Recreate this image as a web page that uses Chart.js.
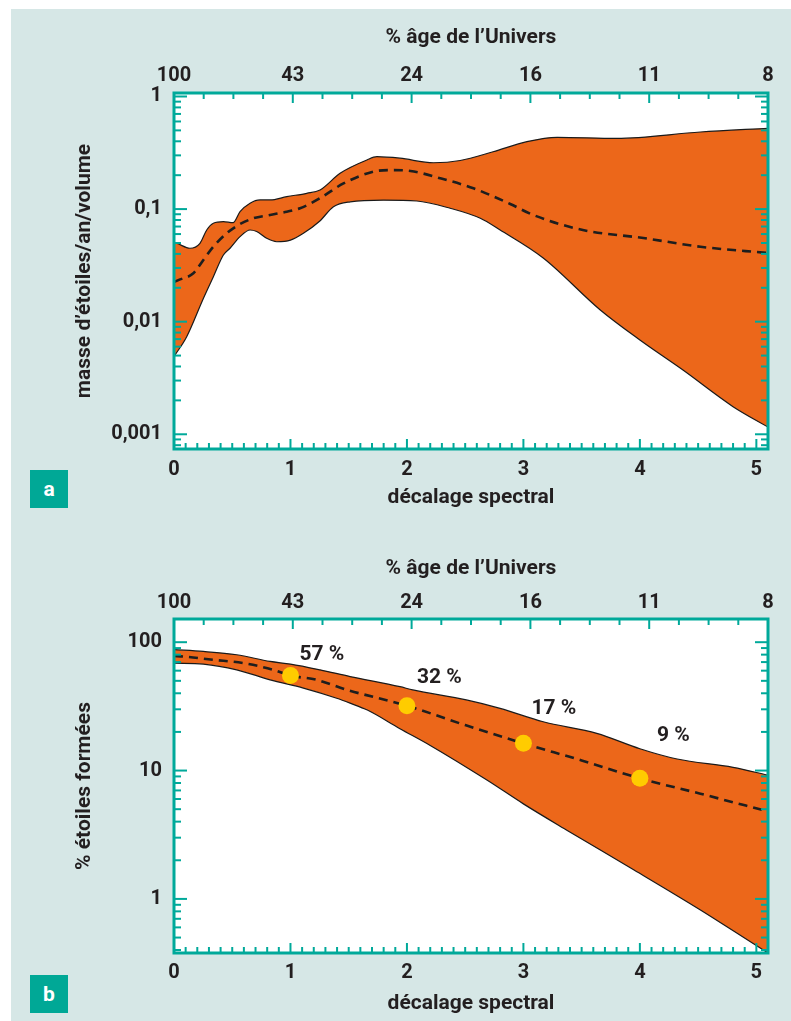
<!DOCTYPE html>
<html><head><meta charset="utf-8">
<script src="https://cdn.jsdelivr.net/npm/chart.js@4"></script>
<style>
html,body{margin:0;padding:0;background:#fff;}
#page{position:relative;width:791px;height:1021px;overflow:hidden;}
#panel{position:absolute;left:11px;top:9px;right:0;bottom:0;background:#d6e7e6;}
canvas{position:absolute;left:0;}
#ca{top:0;width:791px;height:520px;}
#cb{top:520px;width:791px;height:501px;}
.badge{position:absolute;left:30px;width:38px;height:38px;background:#00a896;color:#fff;font:700 21px Roboto, sans-serif;display:flex;align-items:center;justify-content:center;}
</style></head>
<body><div id="page"><div id="panel"></div>
<canvas id="ca" width="791" height="520"></canvas>
<canvas id="cb" width="791" height="501"></canvas>
<div class="badge" style="top:470px">a</div>
<div class="badge" style="top:975px">b</div>
</div>
<script>
// ---------- DATA ----------
const redshiftTicks = [0, 1, 2, 3, 4, 5];
const redshiftLabels = ['0', '1', '2', '3', '4', '5'];
const ageTickIdx = [0, 4, 8, 12, 16, 20];
const ageLabels = ['100', '43', '24', '16', '11', '8'];

// chart a : masse d'étoiles/an/volume
const aYTicks = [0.001, 0.01, 0.1, 1];
const aYLabels = ['0,001', '0,01', '0,1', '1'];
const aUpperZ = [0, 0.02, 0.137, 0.223, 0.281, 0.338, 0.424, 0.507, 0.567, 0.653, 0.739, 0.825, 0.968, 1.14, 1.254, 1.426, 1.656, 1.742, 1.94, 2.228, 2.457, 2.74, 3.03, 3.29, 3.8, 4.52, 5.1];
const aUpper  = [0.05, 0.0497, 0.0449, 0.0497, 0.0652, 0.0748, 0.0773, 0.0757, 0.0948, 0.1127, 0.1205, 0.1205, 0.129, 0.138, 0.148, 0.208, 0.273, 0.292, 0.283, 0.258, 0.27, 0.323, 0.397, 0.434, 0.425, 0.484, 0.522];
const aLowerZ = [0, 0.109, 0.252, 0.338, 0.424, 0.481, 0.567, 0.653, 0.71, 0.796, 0.882, 1.0, 1.111, 1.25, 1.369, 1.512, 1.798, 2.085, 2.371, 2.63, 2.8, 3.17, 3.66, 4.0, 4.37, 4.8, 5.1];
const aLower  = [0.0049, 0.00736, 0.0161, 0.0251, 0.0391, 0.0449, 0.0569, 0.0652, 0.0632, 0.055, 0.0513, 0.053, 0.061, 0.078, 0.105, 0.116, 0.12, 0.118, 0.1017, 0.0828, 0.0652, 0.0368, 0.0127, 0.00687, 0.00372, 0.00176, 0.00116];
const aMedZ   = [0, 0.037, 0.166, 0.252, 0.338, 0.453, 0.553, 0.681, 0.825, 0.968, 1.082, 1.254, 1.455, 1.712, 1.856, 2.03, 2.285, 2.571, 2.887, 3.08, 3.51, 4.03, 4.52, 5.1];
const aMedian = [0.0225, 0.0234, 0.0269, 0.0353, 0.0464, 0.061, 0.0722, 0.0828, 0.0887, 0.0948, 0.1017, 0.125, 0.169, 0.215, 0.222, 0.218, 0.188, 0.153, 0.111, 0.089, 0.0652, 0.0553, 0.0463, 0.0407];

// chart b : % étoiles formées
const bYTicks = [1, 10, 100];
const bYLabels = ['1', '10', '100'];
const bUpperZ = [0, 0.252, 0.538, 0.825, 1.0, 1.254, 1.512, 1.94, 2.05, 2.51, 2.8, 3.17, 3.63, 4.0, 4.32, 4.8, 5.1];
const bUpper  = [87.5, 84.7, 79.8, 70.8, 67.5, 60.9, 54.0, 45, 42.5, 35.5, 30.5, 24, 19.5, 14.8, 12.3, 10.6, 9.2];
const bLowerZ = [0, 0.252, 0.538, 0.825, 1.111, 1.397, 1.512, 1.66, 1.94, 2.2, 2.69, 3.0, 3.38, 3.95, 4.52, 5.06, 5.1];
const bLower  = [68.7, 67.5, 60.9, 50.9, 43.9, 36.6, 33.5, 29.6, 21.2, 15.7, 8.4, 5.5, 3.4, 1.68, 0.82, 0.40, 0.38];
const bMedZ   = [0, 0.08, 0.338, 0.595, 0.853, 1.0, 1.225, 1.482, 2.0, 2.5, 3.0, 3.5, 4.0, 4.52, 5.1];
const bMedian = [78, 77.4, 72.9, 68.7, 60.9, 55, 50.9, 42.6, 32, 22.6, 16.3, 12, 8.7, 6.6, 4.8];
const bDotZ   = [1, 2, 3, 4];
const bDots   = [55, 32, 16.3, 8.7];
const bDotLabels = ['57 %', '32 %', '17 %', '9 %'];

// ---------- STYLE ----------
const TEAL = '#00a99a';
const ORANGE = '#ec671a';
const INK = '#231f20';
const YELLOW = '#ffcc00';
const FONT = 'Roboto';
const TICK_SIZE = 20;
const TITLE_SIZE = 21;

function pts(zs, vs) { return zs.map((z, i) => ({ x: z, y: vs[i] })); }

const framePlugin = {
  id: 'frame',
  beforeDraw(chart) {
    const { ctx, chartArea: a } = chart;
    ctx.save();
    ctx.fillStyle = '#ffffff';
    ctx.fillRect(a.left, a.top, a.right - a.left, a.bottom - a.top);
    ctx.restore();
  },
  afterDatasetsDraw(chart) {
    const { ctx, chartArea: a, scales } = chart;
    ctx.save();
    ctx.strokeStyle = TEAL;
    ctx.lineWidth = 2;
    const line = (x1, y1, x2, y2) => { ctx.beginPath(); ctx.moveTo(x1, y1); ctx.lineTo(x2, y2); ctx.stroke(); };
    const xs = scales.x;
    const n = Math.round(xs.max * 10);
    for (let i = 0; i <= n; i++) {
      const px = xs.getPixelForValue(i / 10);
      line(px, a.bottom, px, a.bottom - (i % 10 === 0 ? 10 : 6));
    }
    const xt = scales.x2;
    for (let v = 0; v <= xt.max; v++) {
      const px = xt.getPixelForValue(v);
      line(px, a.top, px, a.top + (v % 4 === 0 ? 10 : 6));
    }
    const ys = scales.y;
    const lo = Math.floor(Math.log10(ys.min)), hi = Math.ceil(Math.log10(ys.max));
    for (let e = lo; e <= hi; e++) {
      for (let m = 1; m <= 9; m++) {
        const v = m * Math.pow(10, e);
        if (v < ys.min || v > ys.max) continue;
        const py = ys.getPixelForValue(v);
        const len = m === 1 ? 13 : 7;
        line(a.left, py, a.left + len, py);
        line(a.right, py, a.right - len, py);
      }
    }
    ctx.lineWidth = 3;
    ctx.strokeRect(a.left, a.top, a.right - a.left, a.bottom - a.top);
    ctx.restore();
  }
};

const dotLabelPlugin = {
  id: 'dotLabels',
  afterDatasetsDraw(chart, args, opts) {
    if (!opts || !opts.texts) return;
    const { ctx } = chart;
    const meta = chart.getDatasetMeta(opts.datasetIndex);
    ctx.save();
    ctx.font = `700 ${TITLE_SIZE}px ${FONT}`;
    ctx.fillStyle = INK;
    ctx.textAlign = 'left';
    ctx.textBaseline = 'middle';
    meta.data.forEach((el, i) => {
      const o = opts.offsets[i];
      ctx.fillText(opts.texts[i], el.x + o[0], el.y + o[1]);
    });
    ctx.restore();
  }
};

function makeChart(id, c) {
  const datasets = [];
  if (c.dots) {
    datasets.push({ data: pts(c.dotZ, c.dots), showLine: false, pointRadius: 8.5, pointHoverRadius: 8.5,
      pointBackgroundColor: YELLOW, pointBorderWidth: 0, borderWidth: 0, fill: false });
  }
  datasets.push({ data: pts(c.medZ, c.med), borderColor: '#1e1e1e', borderWidth: 2.6, borderDash: [9, 6],
    pointRadius: 0, fill: false, cubicInterpolationMode: 'monotone' });
  datasets.push({ data: pts(c.upZ, c.up), borderColor: '#1a1a1a', borderWidth: 1.2, pointRadius: 0,
    backgroundColor: ORANGE, fill: '+1', cubicInterpolationMode: 'monotone' });
  datasets.push({ data: pts(c.loZ, c.lo), borderColor: '#1a1a1a', borderWidth: 1.2, pointRadius: 0,
    fill: false, cubicInterpolationMode: 'monotone' });

  const tickFont = { family: FONT, size: TICK_SIZE, weight: '700', lineHeight: 1.2 };
  const titleFont = { family: FONT, size: TITLE_SIZE, weight: '700', lineHeight: 1.2 };
  return new Chart(document.getElementById(id), {
    type: 'line',
    data: { datasets },
    plugins: [framePlugin, dotLabelPlugin],
    options: {
      responsive: false, animation: false, devicePixelRatio: 1,
      layout: { padding: { left: 0, right: 23, top: 0, bottom: 0 } },
      plugins: {
        legend: { display: false }, tooltip: { enabled: false },
        filler: { drawTime: 'beforeDatasetsDraw' },
        dotLabels: c.dots ? { datasetIndex: 0, texts: bDotLabels, offsets: [[9, -21], [10, -28], [8, -35], [17, -43]] } : {}
      },
      scales: {
        x: {
          type: 'linear', position: 'bottom', min: 0, max: 5.1,
          grid: { display: false, drawTicks: false }, border: { display: false },
          afterBuildTicks: s => { s.ticks = redshiftTicks.map(v => ({ value: v })); },
          afterFit: s => { s.height = c.bottomH; },
          ticks: { padding: c.xTickPad, color: INK, font: tickFont, maxRotation: 0, autoSkip: false,
            callback: (v, i) => redshiftLabels[i] },
          title: { display: true, text: 'décalage spectral', color: INK, font: titleFont, padding: { top: 0, bottom: c.xTitlePad } }
        },
        x2: {
          type: 'linear', position: 'top', min: 0, max: 20,
          grid: { display: false, drawTicks: false }, border: { display: false },
          afterBuildTicks: s => { s.ticks = ageTickIdx.map(v => ({ value: v })); },
          afterFit: s => { s.height = c.topH; },
          ticks: { padding: c.x2TickPad, color: INK, font: tickFont, maxRotation: 0, autoSkip: false,
            callback: (v, i) => ageLabels[i] },
          title: { display: true, text: '% âge de l\u2019Univers', color: INK, font: titleFont, padding: { top: c.x2TitlePad, bottom: 0 } }
        },
        y: {
          type: 'logarithmic', position: 'left', min: c.yMin, max: c.yMax,
          grid: { display: false, drawTicks: false }, border: { display: false },
          afterBuildTicks: s => { s.ticks = c.yTicks.map(v => ({ value: v })); },
          afterFit: s => { s.width = 174; },
          ticks: { padding: 12, color: INK, font: tickFont, autoSkip: false, callback: (v, i) => c.yLabels[i] },
          title: { display: true, text: c.yTitle, color: INK, font: titleFont, padding: { top: 72.4, bottom: 0 } }
        }
      }
    }
  });
}

makeChart('ca', {
  upZ: aUpperZ, up: aUpper, loZ: aLowerZ, lo: aLower, medZ: aMedZ, med: aMedian,
  yMin: 0.00074, yMax: 1.074, yTicks: aYTicks, yLabels: aYLabels,
  yTitle: 'masse d\u2019étoiles/an/volume',
  topH: 93, bottomH: 71, x2TickPad: 5, x2TitlePad: 25.4, xTickPad: 9, xTitlePad: 9.4
});

makeChart('cb', {
  upZ: bUpperZ, up: bUpper, loZ: bLowerZ, lo: bLower, medZ: bMedZ, med: bMedian,
  dotZ: bDotZ, dots: bDots,
  yMin: 0.379, yMax: 151.6, yTicks: bYTicks, yLabels: bYLabels,
  yTitle: '% étoiles formées',
  topH: 99, bottomH: 68, x2TickPad: 4.3, x2TitlePad: 36.4, xTickPad: 8, xTitlePad: 4.4
});
</script>
</body></html>
